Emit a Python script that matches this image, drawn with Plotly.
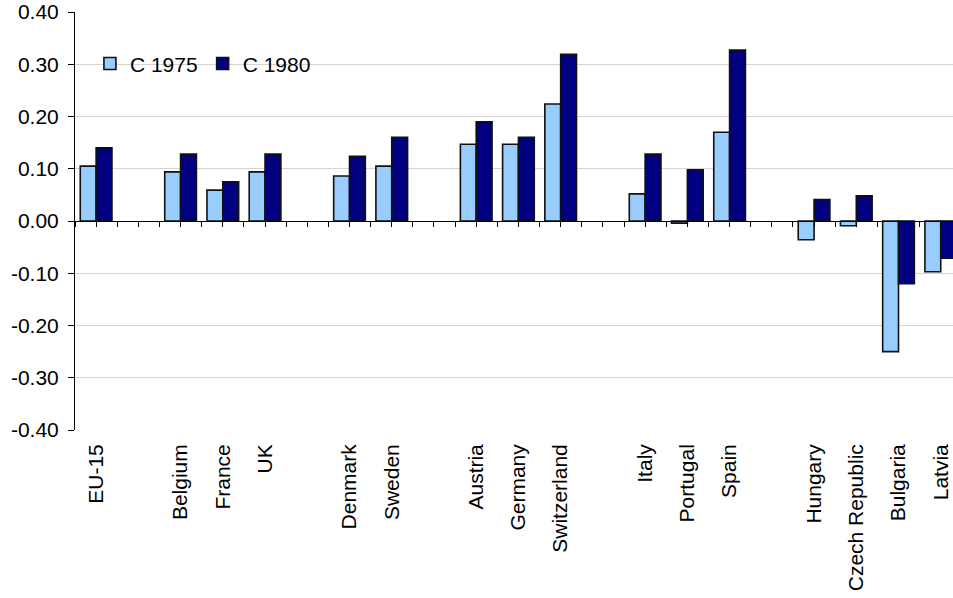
import plotly.graph_objects as go

# blank entries (different numbers of spaces) are the gaps between country groups
categories = ["EU-15", " ", "Belgium", "France", "UK", "  ", "Denmark", "Sweden", "   ",
              "Austria", "Germany", "Switzerland", "    ", "Italy", "Portugal", "Spain", "     ",
              "Hungary", "Czech Republic", "Bulgaria", "Latvia"]
c1975 = [0.105, None, 0.094, 0.059, 0.094, None, 0.086, 0.105, None,
         0.147, 0.147, 0.224, None, 0.052, -0.004, 0.170, None,
         -0.036, -0.009, -0.250, -0.097]
c1980 = [0.140, None, 0.128, 0.075, 0.128, None, 0.124, 0.160, None,
         0.190, 0.160, 0.319, None, 0.128, 0.098, 0.327, None,
         0.041, 0.048, -0.120, -0.071]
y_ticks = [-0.4, -0.3, -0.2, -0.1, 0.0, 0.1, 0.2, 0.3, 0.4]
y_labels = ["-0.40", "-0.30", "-0.20", "-0.10", "0.00", "0.10", "0.20", "0.30", "0.40"]

font = "Liberation Sans, Arial, sans-serif"
xrange = [-0.5, 20.29]

fig = go.Figure()
fig.add_trace(go.Bar(
    x = categories, y = c1975, name = "C 1975",
    marker = dict(color = "#99CCFF", line = dict(color = "#111111", width = 1.6))
))
fig.add_trace(go.Bar(
    x = categories, y = c1980, name = "C 1980",
    marker = dict(color = "#000080", line = dict(color = "#111111", width = 1.6))
))
# invisible helper so the tick axis along the zero line gets drawn
fig.add_trace(go.Scatter(
    x = list(range(len(categories))), y = c1975, xaxis = "x2", mode = "markers",
    marker = dict(opacity = 0), showlegend = False, hoverinfo = "skip"
))

# white box behind the legend hides the gridlines there
fig.add_shape(type = "rect", xref = "paper", yref = "y", x0 = 0.023, x1 = 0.256, y0 = 0.185, y1 = 0.41,
              fillcolor = "white", line = dict(width = 0), layer = "between")

fig.update_layout(
    width = 953, height = 598,
    margin = dict(l = 75, r = 0, t = 12, b = 168),
    paper_bgcolor = "white", plot_bgcolor = "white",
    font = dict(family = font, size = 21, color = "black"),
    barmode = "group", bargap = 0.25, bargroupgap = 0,
    showlegend = True,
    legend = dict(orientation = "h", x = 0.017, y = 0.876, xanchor = "left", yanchor = "middle",
                  bgcolor = "rgba(0,0,0,0)", font = dict(size = 21), itemwidth = 30,
                  traceorder = "normal"),
    xaxis = dict(type = "category", range = xrange, showline = False, showgrid = False,
                 ticks = "", tickangle = -90, ticklabelstandoff = 9,
                 tickfont = dict(size = 21)),
    xaxis2 = dict(overlaying = "x", anchor = "free", position = 0.5, range = xrange,
                  tick0 = -0.5, dtick = 0.5, ticks = "outside", ticklen = 5, tickcolor = "black",
                  showline = True, linecolor = "black", linewidth = 1, showgrid = False,
                  showticklabels = False, zeroline = False),
    yaxis = dict(range = [-0.4, 0.4], tickvals = y_ticks, ticktext = y_labels, ticks = "outside",
                 ticklen = 6, tickcolor = "black", showline = True, linecolor = "black",
                 gridcolor = "#D4D4D4", zeroline = False, ticklabelstandoff = 5,
                 tickfont = dict(size = 21)),
)

fig.write_html("out.html", config = {"displayModeBar": False},
               post_script = "document.body.style.margin = '0';")
